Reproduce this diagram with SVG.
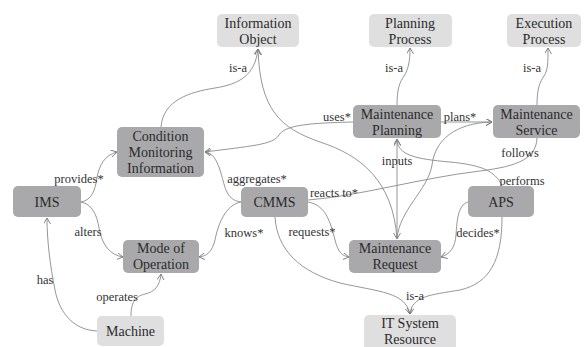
<svg xmlns="http://www.w3.org/2000/svg" width="586" height="347" viewBox="0 0 586 347" font-family="'Liberation Serif', 'Times New Roman', 'DejaVu Serif', serif">
<style>
.dk{fill:#a9a9ab}
.lt{fill:#dfdfe0}
.nt{font-family:'Liberation Serif','Times New Roman','DejaVu Serif',serif;font-size:14px;fill:#2b2b2b;text-anchor:middle}
.lb{font-family:'Liberation Serif','Times New Roman','DejaVu Serif',serif;font-size:12.5px;fill:#333;text-anchor:middle}
.e{fill:none;stroke:#8a8a8a;stroke-width:0.9}
</style>
<defs>
<marker id="a" markerWidth="8" markerHeight="8" refX="6" refY="3.5" orient="auto-start-reverse" markerUnits="userSpaceOnUse">
<path d="M0,0 L6,3.5 L0,7" fill="none" stroke="#7a7a7a" stroke-width="0.9"/>
</marker>
</defs>
<rect width="586" height="347" fill="#fff"/>
<g id="connectors">
<path class="e" d="M161,127 C163,100 190,92 215,88 C240,84 255,75 258,49" marker-end="url(#a)"/>
<path class="e" d="M397,239 C393,180 360,155 320,142 C280,128 260,110 258,49" marker-end="url(#a)"/>
<path class="e" d="M353,122 C310,123 285,125 279,135 C273,145 250,146 205,152" marker-end="url(#a)"/>
<path class="e" d="M241,202 C225,200 225,185 220,170 C216,158 212,153 205,152" marker-end="url(#a)"/>
<path class="e" d="M241,202 C225,205 218,225 215,240 C212,252 207,256 199,257" marker-end="url(#a)"/>
<path class="e" d="M308,202 C325,205 330,220 335,240 C338,252 342,256 349,257" marker-end="url(#a)"/>
<path class="e" d="M275,217 C277,250 300,272 340,283 C380,292 405,292 410,314" marker-end="url(#a)"/>
<path class="e" d="M502,217 C502,260 490,283 460,290 C430,295 412,296 410,314" marker-end="url(#a)"/>
<path class="e" d="M468,202 C458,205 457,220 456,235 C455,248 450,254 441,257" marker-end="url(#a)"/>
<path class="e" d="M502,186 C495,170 480,165 450,162 C415,159 398,155 397,140" marker-end="url(#a)"/>
<path class="e" d="M397,239 L397,139" marker-start="url(#a)" marker-end="url(#a)"/>
<path class="e" d="M397,239 C399,210 428,190 432,165 C435,140 455,123 492,122" marker-end="url(#a)"/>
<path class="e" d="M308,200 C360,196 420,178 480,171 C520,166 536,158 537,138"/>
<path class="e" d="M441,122 L492,122" marker-end="url(#a)"/>
<path class="e" d="M397,105 C397,88 400,82 404,76 C408,70 410,62 410,48" marker-end="url(#a)"/>
<path class="e" d="M537,105 C537,88 540,82 544,76 C548,70 548,62 548,48" marker-end="url(#a)"/>
<path class="e" d="M81,202 C92,200 95,190 97,178 C99,165 105,155 117,152" marker-end="url(#a)"/>
<path class="e" d="M81,202 C92,204 97,215 99,228 C102,245 110,255 123,257" marker-end="url(#a)"/>
<path class="e" d="M97,331 C75,330 60,315 55,290 C50,265 47,240 47,218" marker-end="url(#a)"/>
<path class="e" d="M131,316 C131,300 137,296 145,294 C155,292 160,285 161,274" marker-end="url(#a)"/>
<text class="lb" x="238" y="72">is-a</text>
<text class="lb" x="337" y="121">uses*</text>
<text class="lb" x="394" y="72">is-a</text>
<text class="lb" x="460" y="121">plans*</text>
<text class="lb" x="532" y="72">is-a</text>
<text class="lb" x="397" y="165">inputs</text>
<text class="lb" x="520" y="157">follows</text>
<text class="lb" x="522" y="185">performs</text>
<text class="lb" x="502" y="197">*</text>
<text class="lb" x="79" y="183">provides*</text>
<text class="lb" x="257" y="183">aggregates*</text>
<text class="lb" x="334" y="197">reacts to*</text>
<text class="lb" x="88" y="236">alters</text>
<text class="lb" x="244" y="237">knows*</text>
<text class="lb" x="312" y="236">requests*</text>
<text class="lb" x="478" y="237">decides*</text>
<text class="lb" x="45" y="284">has</text>
<text class="lb" x="117" y="301">operates</text>
<text class="lb" x="415" y="300">is-a</text>
</g>
<g id="information-object"><rect class="lt" x="217" y="14" width="82" height="33" rx="5"/><text class="nt" x="258" y="27.5">Information</text><text class="nt" x="258" y="43.5">Object</text></g>
<g id="planning-process"><rect class="lt" x="369" y="14" width="83" height="33" rx="5"/><text class="nt" x="410" y="27.5">Planning</text><text class="nt" x="410" y="43.5">Process</text></g>
<g id="execution-process"><rect class="lt" x="507" y="14" width="74" height="33" rx="5"/><text class="nt" x="544" y="27.5">Execution</text><text class="nt" x="544" y="43.5">Process</text></g>
<g id="maintenance-planning"><rect class="dk" x="353" y="105" width="88" height="33" rx="5"/><text class="nt" x="397" y="118.5">Maintenance</text><text class="nt" x="397" y="134.5">Planning</text></g>
<g id="maintenance-service"><rect class="dk" x="493" y="105" width="87" height="33" rx="5"/><text class="nt" x="536.5" y="118.5">Maintenance</text><text class="nt" x="536.5" y="134.5">Service</text></g>
<g id="condition-monitoring-information"><rect class="dk" x="117" y="127" width="87" height="50" rx="5"/><text class="nt" x="160.5" y="141">Condition</text><text class="nt" x="160.5" y="157">Monitoring</text><text class="nt" x="160.5" y="173">Information</text></g>
<g id="ims"><rect class="dk" x="13" y="186" width="68" height="31" rx="5"/><text class="nt" x="47" y="206.5">IMS</text></g>
<g id="cmms"><rect class="dk" x="241" y="187" width="67" height="30" rx="5"/><text class="nt" x="274.5" y="207">CMMS</text></g>
<g id="aps"><rect class="dk" x="468" y="186" width="66" height="31" rx="5"/><text class="nt" x="501" y="206.5">APS</text></g>
<g id="mode-of-operation"><rect class="dk" x="123" y="240" width="76" height="33" rx="5"/><text class="nt" x="161" y="253">Mode of</text><text class="nt" x="161" y="269">Operation</text></g>
<g id="maintenance-request"><rect class="dk" x="349" y="240" width="92" height="33" rx="5"/><text class="nt" x="395" y="253">Maintenance</text><text class="nt" x="395" y="269">Request</text></g>
<g id="machine"><rect class="lt" x="97" y="316" width="67" height="30" rx="5"/><text class="nt" x="130.5" y="336">Machine</text></g>
<g id="it-system-resource"><rect class="lt" x="364" y="315" width="92" height="36" rx="5"/><text class="nt" x="410" y="328">IT System</text><text class="nt" x="410" y="344">Resource</text></g>
</svg>
